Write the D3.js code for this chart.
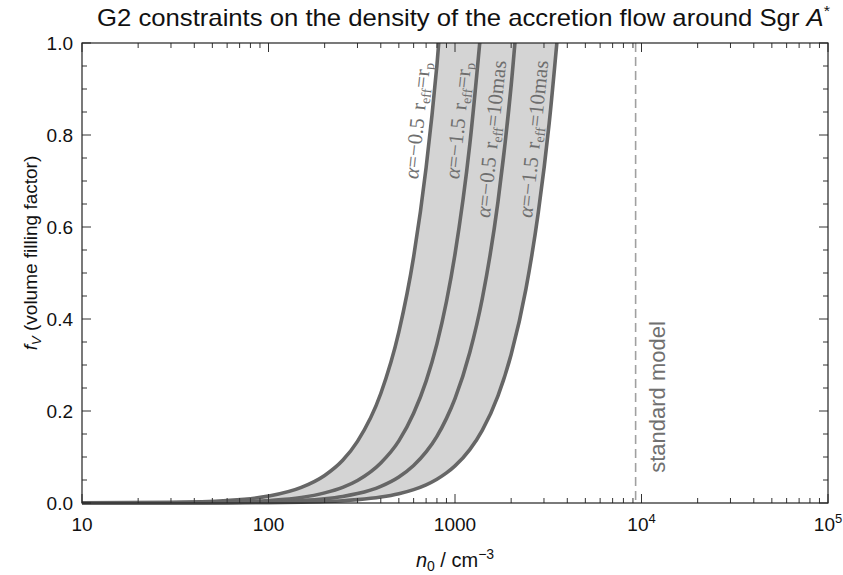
<!DOCTYPE html>
<html>
<head>
<meta charset="utf-8">
<script src="https://cdn.jsdelivr.net/npm/d3@7"></script>
<style>
  body { margin: 0; background: #fff; }
  text { font-family: "Liberation Sans", Arial, sans-serif; }
</style>
</head>
<body>
<svg width="843" height="575"></svg>
<script>
var densities = [10, 30, 60, 100, 150, 200, 250, 300, 400, 500, 600, 700, 800, 900,
                 1000, 1200, 1400, 1700, 2000, 2400, 2800, 3200, 3600];

// volume filling factor for each constraint (same order as densities, cut after passing 1)
var fAlpha05Rp    = [0.0002, 0.0013, 0.0054, 0.015, 0.034, 0.060, 0.093, 0.134, 0.238, 0.372,
                     0.535, 0.729, 0.952, 1.205];
var fAlpha15Rp    = [0.0001, 0.0005, 0.0019, 0.0054, 0.012, 0.022, 0.034, 0.049, 0.087, 0.135,
                     0.195, 0.265, 0.346, 0.438, 0.541, 0.779, 1.06];
var fAlpha05Mas   = [0.0000, 0.0002, 0.0008, 0.0023, 0.0051, 0.0091, 0.0142, 0.0204, 0.0363, 0.0567,
                     0.0816, 0.111, 0.145, 0.184, 0.227, 0.327, 0.444, 0.655, 0.907, 1.306];
var fAlpha15Mas   = [0.0000, 0.0001, 0.0003, 0.0008, 0.0018, 0.0032, 0.0050, 0.0073, 0.0129, 0.0202,
                     0.0291, 0.0395, 0.0517, 0.0654, 0.0807, 0.116, 0.158, 0.233, 0.323, 0.465,
                     0.633, 0.826, 1.046];

var curveAlphas = ["\u22120.5", "\u22121.5", "\u22120.5", "\u22121.5"];
var curveReff   = ["p", "p", "10mas", "10mas"];   // "p" -> r_p, otherwise a size
var labelLevels = [0.83, 0.83, 0.79, 0.79];       // f_V where each label sits

var standardModel = 9300;
var xTickValues = [10, 100, 1000, 1e4, 1e5];

// Get the properties of the svg container
var svg = d3.select("svg");
var pLeft = 82, pRight = 828, pTop = 43, pBottom = 503;

var x = d3.scaleLog().domain([10, 1e5]).range([pLeft, pRight]);
var y = d3.scaleLinear().domain([0, 1]).range([pBottom, pTop]);

var curves = [fAlpha05Rp, fAlpha15Rp, fAlpha05Mas, fAlpha15Mas].map(function(f) {
    return f.map(function(v, i) { return [densities[i], v]; });
});

svg.append("clipPath").attr("id", "plot")
    .append("rect")
    .attr("x", pLeft).attr("y", pTop)
    .attr("width", pRight - pLeft).attr("height", pBottom - pTop + 10);

var line = d3.line()
    .x(function(d) { return x(d[0]); })
    .y(function(d) { return y(d[1]); })
    .curve(d3.curveMonotoneX);

var g = svg.append("g").attr("clip-path", "url(#plot)");

// Band between the outermost constraints
var bandPts = curves[0].map(function(d) { return [x(d[0]), y(d[1])]; });
var innerPts = curves[3].map(function(d) { return [x(d[0]), y(d[1])]; }).reverse();
var bandPath = d3.line().curve(d3.curveMonotoneX)(bandPts) + "L" +
    d3.line().curve(d3.curveMonotoneX)(innerPts).slice(1) + "Z";
g.append("path")
    .attr("d", bandPath)
    .attr("fill", "#d4d4d4")
    .attr("stroke", "none");

// Dashed standard model line
svg.append("line")
    .attr("x1", x(standardModel)).attr("x2", x(standardModel))
    .attr("y1", pTop).attr("y2", pBottom)
    .attr("stroke", "#a0a0a0")
    .attr("stroke-width", 1.6)
    .attr("stroke-dasharray", "9,5");

svg.append("text")
    .attr("transform", "translate(" + (x(standardModel) + 29) + ",397) rotate(-90)")
    .attr("text-anchor", "middle")
    .attr("font-size", 22)
    .attr("fill", "#707070")
    .text("standard model");

// Frame ticks
var tickCol = "#333";
var frame = svg.append("g");
x.ticks().forEach(function(t) {
    var major = Math.abs(Math.log10(t) - Math.round(Math.log10(t))) < 1e-9;
    var len = major ? 9 : 5;
    frame.append("line").attr("x1", x(t)).attr("x2", x(t))
        .attr("y1", pBottom).attr("y2", pBottom - len)
        .attr("stroke", tickCol).attr("stroke-width", 1);
    frame.append("line").attr("x1", x(t)).attr("x2", x(t))
        .attr("y1", pTop).attr("y2", pTop + len)
        .attr("stroke", tickCol).attr("stroke-width", 1);
});
d3.range(0, 1.0001, 0.05).forEach(function(t, i) {
    var len = (i % 4 === 0) ? 9 : 5;
    frame.append("line").attr("x1", pLeft).attr("x2", pLeft + len)
        .attr("y1", y(t)).attr("y2", y(t))
        .attr("stroke", tickCol).attr("stroke-width", 1);
    frame.append("line").attr("x1", pRight).attr("x2", pRight - len)
        .attr("y1", y(t)).attr("y2", y(t))
        .attr("stroke", tickCol).attr("stroke-width", 1);
});

// The constraint curves
g.selectAll(".curve")
    .data(curves)
    .enter().append("path")
    .attr("class", "curve")
    .attr("d", line)
    .attr("fill", "none")
    .attr("stroke", "#666")
    .attr("stroke-width", 3.6);

frame.append("rect")
    .attr("x", pLeft).attr("y", pTop)
    .attr("width", pRight - pLeft).attr("height", pBottom - pTop)
    .attr("fill", "none").attr("stroke", "#222").attr("stroke-width", 1.2);

// Curve labels, placed just left of each curve
function xAtLevel(c, f) {
    for (var i = 1; i < c.length; i++) {
        if (c[i][1] >= f) {
            var a = c[i - 1], b = c[i];
            var t = (f - a[1]) / (b[1] - a[1]);
            return x(a[0]) + t * (x(b[0]) - x(a[0]));
        }
    }
    return x(c[c.length - 1][0]);
}
curves.forEach(function(c, i) {
    var cx = xAtLevel(c, labelLevels[i]) - 7;
    var cy = y(labelLevels[i]);
    var t = svg.append("text")
        .attr("transform", "translate(" + cx + "," + cy + ") rotate(-84)")
        .attr("text-anchor", "middle")
        .style("font-family", "'Liberation Serif', 'Times New Roman', serif")
        .attr("font-size", 21)
        .attr("fill", "#6e6e6e");
    t.append("tspan").attr("font-style", "italic").text("\u03b1");
    t.append("tspan").text("=" + curveAlphas[i]);
    t.append("tspan").attr("dx", 8).text("r");
    t.append("tspan").attr("font-size", 14).attr("dy", 4).text("eff");
    if (curveReff[i] === "p") {
        t.append("tspan").attr("dy", -4).text("=r");
        t.append("tspan").attr("font-size", 14).attr("dy", 4).text("p");
    } else {
        t.append("tspan").attr("dy", -4).text("=" + curveReff[i]);
    }
});

// Tick labels
xTickValues.forEach(function(v) {
    var e = Math.round(Math.log10(v));
    var t = svg.append("text")
        .attr("x", x(v)).attr("y", pBottom + 28)
        .attr("text-anchor", "middle")
        .attr("font-size", 19)
        .attr("fill", "#111");
    if (e <= 3) {
        t.text(String(v));
    } else {
        t.append("tspan").text("10");
        t.append("tspan").attr("font-size", 13).attr("dy", -8).text(e);
    }
});
d3.range(0, 1.0001, 0.2).forEach(function(v) {
    svg.append("text")
        .attr("x", 73).attr("y", y(v))
        .attr("dy", "0.35em")
        .attr("text-anchor", "end")
        .attr("font-size", 19)
        .attr("fill", "#111")
        .text(d3.format(".1f")(v));
});

// Axis titles
var xl = svg.append("text")
    .attr("x", 455).attr("y", 567)
    .attr("text-anchor", "middle")
    .attr("font-size", 20)
    .attr("fill", "#111");
xl.append("tspan").attr("font-style", "italic").text("n");
xl.append("tspan").attr("font-size", 14).attr("dy", 4).text("0");
xl.append("tspan").attr("dy", -4).text(" / cm");
xl.append("tspan").attr("font-size", 14).attr("dy", -8).text("\u22123");

var yl = svg.append("text")
    .attr("transform", "translate(37,253) rotate(-90)")
    .attr("text-anchor", "middle")
    .attr("font-size", 19)
    .attr("fill", "#111");
yl.append("tspan").attr("font-style", "italic").text("f");
yl.append("tspan").attr("font-style", "italic").attr("font-size", 13).attr("dy", 4).text("V");
yl.append("tspan").attr("dy", -4).text(" (volume filling factor)");

// Title
var title = svg.append("text")
    .attr("x", 97).attr("y", 26)
    .attr("font-size", 24)
    .attr("textLength", 733)
    .attr("lengthAdjust", "spacingAndGlyphs")
    .attr("fill", "#111");
title.append("tspan").text("G2 constraints on the density of the accretion flow around Sgr ");
title.append("tspan").attr("font-style", "italic").text("A");
title.append("tspan").attr("font-size", 15).attr("dy", -10).text("*");
</script>
</body>
</html>
